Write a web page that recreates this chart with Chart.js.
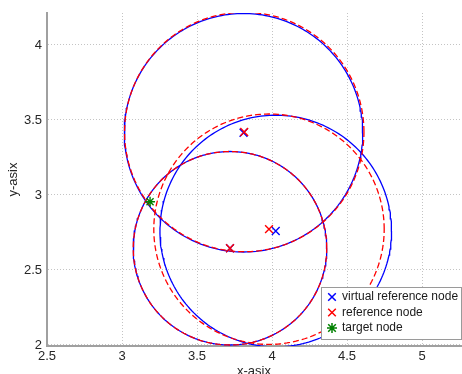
<!DOCTYPE html>
<html>
<head>
<meta charset="utf-8">
<script src="https://cdn.jsdelivr.net/npm/chart.js@4/dist/chart.umd.min.js"></script>
<style>
  body { margin: 0; background: #fff; }
  canvas { display: block; }
</style>
</head>
<body>
<canvas id="circleChart" width="462" height="374"></canvas>
<script>
// ----------- Data -----------------
const virtualX = [3.81, 4.025, 3.72];
const virtualY = [3.415, 2.76, 2.645];
const virtualR = [0.795, 0.772, 0.645];

const refX = [3.815, 3.98, 3.72];
const refY = [3.42, 2.772, 2.645];
const refR = [0.798, 0.768, 0.645];

const targetX = [3.187];
const targetY = [2.955];

const xTicks = [2.5, 3, 3.5, 4, 4.5, 5];
const yTicks = [2, 2.5, 3, 3.5, 4];

const legendLabels = ["virtual reference node", "reference node", "target node"];

// points on a circle, from its centre and radius
const circlePoints = (cx, cy, r) => {
    const pts = [];
    for (let i = 0; i <= 240; i++) {
        const a = i / 240 * Math.PI * 2;
        pts.push({x: cx + r * Math.cos(a), y: cy + r * Math.sin(a)});
    }
    return pts;
};

const toPoints = (xs, ys) => xs.map((x, i) => ({x: x, y: ys[i]}));

const datasets = [];

// lower "order" is drawn on top
virtualX.forEach((x, i) => {
    datasets.push({
        data: circlePoints(x, virtualY[i], virtualR[i]),
        showLine: true,
        borderColor: "#0000ff",
        borderWidth: 1.3,
        pointRadius: 0,
        fill: false,
        order: 10
    });
});

refX.forEach((x, i) => {
    datasets.push({
        data: circlePoints(x, refY[i], refR[i]),
        showLine: true,
        borderColor: "#ff0000",
        borderWidth: 1.3,
        borderDash: [6, 3],
        pointRadius: 0,
        fill: false,
        order: 8
    });
});

datasets.push({
    label: legendLabels[0],
    data: toPoints(virtualX, virtualY),
    pointStyle: "crossRot",
    pointRadius: 5.5,
    pointBorderWidth: 1.4,
    borderColor: "#0000ff",
    backgroundColor: "#0000ff",
    order: 3
});
datasets.push({
    label: legendLabels[1],
    data: toPoints(refX, refY),
    pointStyle: "crossRot",
    pointRadius: 5.5,
    pointBorderWidth: 1.4,
    borderColor: "#ff0000",
    backgroundColor: "#ff0000",
    order: 2
});
datasets.push({
    label: legendLabels[2],
    data: toPoints(targetX, targetY),
    pointStyle: "star",
    pointRadius: 5,
    pointBorderWidth: 1.4,
    borderColor: "#008000",
    backgroundColor: "#008000",
    order: 1
});

// ----------- Legend box (MATLAB style, inside the axes) -----------
const boxLegend = {
    id: "boxLegend",
    afterDraw(chart) {
        const ctx = chart.ctx;
        const marked = chart.data.datasets.filter(d => d.label);
        const left = 321, top = 287, w = 140, h = 52;
        ctx.save();
        ctx.fillStyle = "#ffffff";
        ctx.fillRect(left, top, w, h);
        ctx.strokeStyle = "#9a9a9a";
        ctx.lineWidth = 1;
        ctx.strokeRect(left + 0.5, top + 0.5, w, h);
        ctx.font = "12px 'Liberation Sans', Arial, sans-serif";
        ctx.textBaseline = "middle";
        ctx.fillStyle = "#1a1a1a";
        marked.forEach((d, i) => {
            const cy = top + 10 + i * 15.5;
            const cx = left + 11;
            ctx.strokeStyle = d.borderColor;
            ctx.lineWidth = 1.5;
            ctx.beginPath();
            const s = 3.8;
            ctx.moveTo(cx - s, cy - s); ctx.lineTo(cx + s, cy + s);
            ctx.moveTo(cx - s, cy + s); ctx.lineTo(cx + s, cy - s);
            if (d.pointStyle === "star") {
                ctx.moveTo(cx - 5, cy); ctx.lineTo(cx + 5, cy);
                ctx.moveTo(cx, cy - 5); ctx.lineTo(cx, cy + 5);
            }
            ctx.stroke();
            ctx.fillText(d.label, left + 21, cy);
        });
        ctx.restore();
    }
};

const tickFont = {family: "'Liberation Sans', Arial, sans-serif", size: 13};
const inkColor = "#262626";

new Chart(document.getElementById("circleChart"), {
    type: "scatter",
    data: { datasets: datasets },
    options: {
        responsive: false,
        animation: false,
        events: [],
        layout: {
            autoPadding: false,
            padding: { top: 13, right: 1, left: 0, bottom: 0 }
        },
        plugins: {
            legend: { display: false },
            tooltip: { enabled: false }
        },
        elements: { line: { tension: 0 } },
        scales: {
            x: {
                type: "linear",
                min: 2.5,
                max: 5.26,
                afterBuildTicks: (scale) => { scale.ticks = xTicks.map(v => ({value: v})); },
                afterFit: (scale) => {
                    scale.height = 28;
                    scale.paddingLeft = 0;
                    scale.paddingRight = 0;
                },
                ticks: {
                    font: tickFont,
                    color: inkColor,
                    padding: 3,
                    maxRotation: 0,
                    autoSkip: false,
                    callback: (v) => String(v)
                },
                grid: { color: "#c4c4c4", lineWidth: 1, drawTicks: false },
                border: { color: "#a0a0a0", width: 2, dash: [1, 2] },
                title: {
                    display: true,
                    text: "x-asix",
                    font: tickFont,
                    color: inkColor,
                    padding: { top: 0, bottom: -5 }
                }
            },
            y: {
                type: "linear",
                min: 1.9933,
                max: 4.2133,
                afterBuildTicks: (scale) => { scale.ticks = yTicks.map(v => ({value: v})); },
                afterFit: (scale) => {
                    scale.width = 47;
                    scale.paddingTop = 0;
                    scale.paddingBottom = 0;
                },
                ticks: {
                    font: tickFont,
                    color: inkColor,
                    padding: 5,
                    autoSkip: false,
                    callback: (v) => String(v)
                },
                grid: { color: "#c4c4c4", lineWidth: 1, drawTicks: false },
                border: { color: "#a0a0a0", width: 2, dash: [1, 2] },
                title: {
                    display: true,
                    text: "y-asix",
                    font: tickFont,
                    color: inkColor,
                    padding: { top: 6, bottom: 0 }
                }
            }
        }
    },
    plugins: [boxLegend]
});
</script>
</body>
</html>
